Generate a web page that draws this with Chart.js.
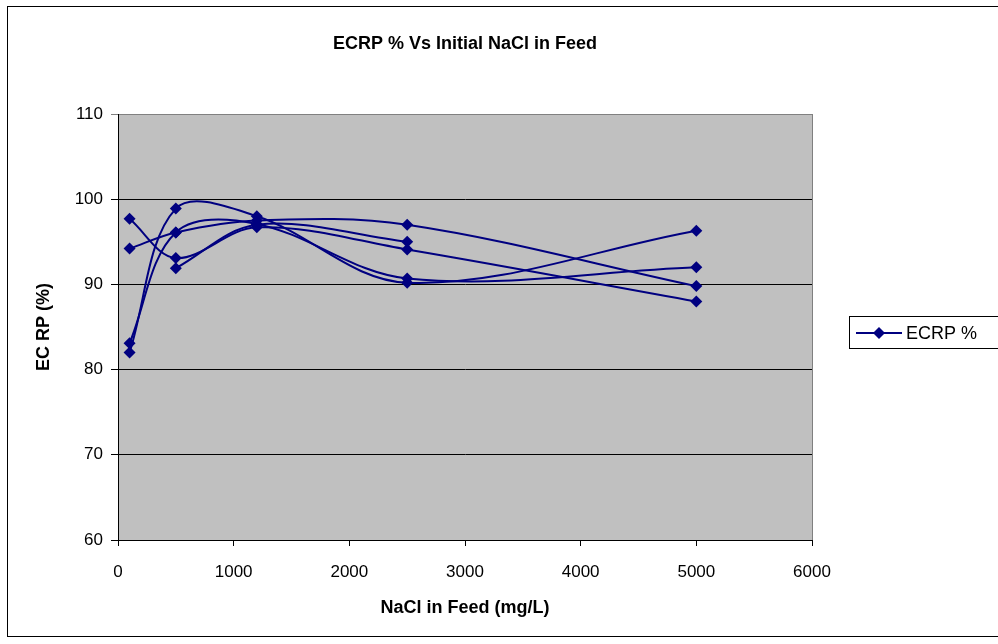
<!DOCTYPE html>
<html>
<head>
  <script src="https://cdn.jsdelivr.net/npm/chart.js@4.4.0/dist/chart.umd.min.js"></script>
</head>
<body style="padding: 0; margin: 0; background: #fff;">
<div style="width: 998px; height: 644px; position: relative;">
  <canvas id="chart" width="998" height="644"></canvas>
</div>
<script>
  const chartTitle = 'ECRP % Vs Initial NaCl in Feed'
  const xTitle = 'NaCl in Feed (mg/L)'
  const yTitle = 'EC RP (%)'
  const seriesName = 'ECRP %'

  // NaCl in feed (mg/L), same for every run
  const nacl = [100, 500, 1200, 2500, 5000]
  // ECRP %, one array per run
  const run1 = [97.7, 93.1, 96.7, 94.1, 88.0]
  const run2 = [94.2, 96.1, 97.5, 97.0, 89.8]
  const run3 = [82.0, 98.9, 98.0, 90.2, 96.3]
  const run4 = [83.1, 96.1, 97.1, 90.7, 92.0]
  const run5 = [null, 91.9, 97.0, 95.0, null]
  const runs = [run1, run2, run3, run4, run5]

  const xTicks = [0, 1000, 2000, 3000, 4000, 5000, 6000]
  const yTicks = [60, 70, 80, 90, 100, 110]

  const navy = '#000080'
  const font = 'Liberation Sans, Arial, sans-serif'

  const frame = {
    id: 'frame',
    beforeDraw(chart) {
      const {ctx, chartArea: a} = chart
      ctx.save()
      ctx.fillStyle = '#fff'
      ctx.fillRect(0, 0, chart.width, chart.height)
      ctx.strokeStyle = '#000'
      ctx.lineWidth = 1
      ctx.strokeRect(7.5, 6.5, 1100, 630)
      ctx.fillStyle = '#c0c0c0'
      ctx.fillRect(a.left, a.top, a.right - a.left, a.bottom - a.top)
      ctx.strokeStyle = '#808080'
      ctx.strokeRect(a.left + 0.5, a.top + 0.5, a.right - a.left, a.bottom - a.top)
      ctx.restore()
    },
    afterDraw(chart) {
      const {ctx, chartArea: a} = chart
      ctx.save()
      // title, centred over the plot
      ctx.fillStyle = '#000'
      ctx.font = 'bold 18px ' + font
      ctx.textAlign = 'center'
      ctx.textBaseline = 'middle'
      ctx.fillText(chartTitle, (a.left + a.right) / 2, 44)
      // legend box
      ctx.strokeStyle = '#000'
      ctx.lineWidth = 1
      ctx.strokeRect(849.5, 316.5, 200, 32)
      ctx.strokeStyle = navy
      ctx.lineWidth = 2
      ctx.beginPath()
      ctx.moveTo(856, 333)
      ctx.lineTo(902, 333)
      ctx.stroke()
      ctx.fillStyle = navy
      ctx.beginPath()
      ctx.moveTo(879, 327); ctx.lineTo(885, 333); ctx.lineTo(879, 339); ctx.lineTo(873, 333)
      ctx.closePath()
      ctx.fill()
      ctx.fillStyle = '#000'
      ctx.font = '18px ' + font
      ctx.textAlign = 'left'
      ctx.fillText(seriesName, 906, 334)
      ctx.restore()
    }
  }

  new Chart(document.getElementById('chart'), {
    type: 'scatter',
    data: {
      datasets: runs.map((run, i) => ({
        label: seriesName,
        data: nacl.map((x, j) => ({x: x, y: run[j]})).filter(p => p.y !== null),
        showLine: true,
        tension: 0.35,
        borderColor: navy,
        borderWidth: 2,
        pointStyle: 'rectRot',
        pointRadius: 6,
        pointHoverRadius: 6,
        pointBackgroundColor: navy,
        pointBorderColor: navy,
        pointBorderWidth: 0,
      }))
    },
    plugins: [frame],
    options: {
      responsive: false,
      animation: false,
      layout: {padding: {left: 0, right: 186, top: 114, bottom: 0}},
      plugins: {legend: {display: false}, title: {display: false}, tooltip: {enabled: false}},
      scales: {
        x: {
          type: 'linear',
          min: 0, max: 6000,
          afterBuildTicks: scale => { scale.ticks = xTicks.map(v => ({value: v})) },
          afterFit: scale => { scale.height = 104 },
          border: {color: '#000', width: 1},
          grid: {drawOnChartArea: false, drawTicks: true, tickLength: 6, color: '#000'},
          ticks: {color: '#000', font: {family: font, size: 17}, padding: 16, maxRotation: 0, callback: v => String(v)},
          title: {display: true, text: xTitle, color: '#000', font: {family: font, size: 18, weight: 'bold'}, padding: {top: 0, bottom: 25}},
        },
        y: {
          min: 60, max: 110,
          afterBuildTicks: scale => { scale.ticks = yTicks.map(v => ({value: v})) },
          afterFit: scale => { scale.width = 118 },
          border: {color: '#000', width: 1},
          grid: {tickLength: 7, color: ctx => ctx.tick && ctx.tick.value === 110 ? '#808080' : '#000'},
          ticks: {color: '#000', font: {family: font, size: 17}, padding: 8, callback: v => String(v)},
          title: {display: true, text: yTitle, color: '#000', font: {family: font, size: 18, weight: 'bold'}, padding: {top: 33, bottom: 0}},
        }
      }
    }
  })
</script>
</body>
</html>
